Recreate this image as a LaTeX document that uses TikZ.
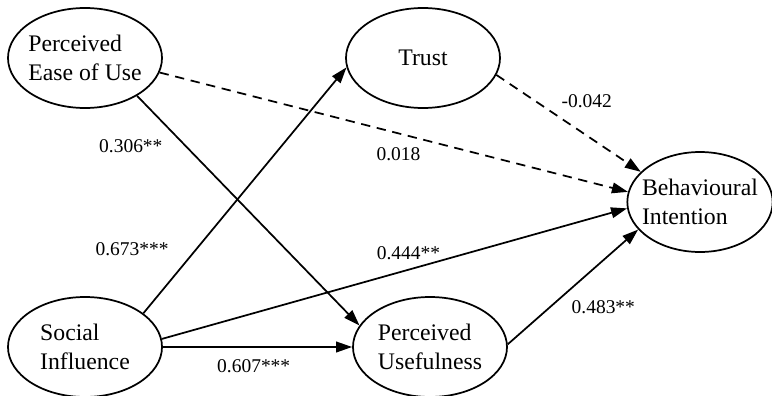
\documentclass[tikz,border=0pt]{standalone}
\usepackage{fontspec}
\setmainfont{Liberation Serif}
\usetikzlibrary{shapes.geometric, arrows.meta}
\tikzset{
  latent/.style={ellipse, draw=black, line width=1.3pt, minimum width=115.5pt, minimum height=75pt, inner xsep=-6pt, inner ysep=0pt, align=left, font=\fontsize{17.8}{21.5}\selectfont},
  arrow/.style={-{Triangle[length=12pt, width=8pt]}, line width=1.3pt},
  dasharrow/.style={arrow, dash pattern=on 7pt off 5pt},
  coef/.style={inner sep=1pt, font=\fontsize{14.6}{16}\selectfont}
}
\begin{document}
\begin{tikzpicture}[x=0.75pt, y=-0.75pt]
  \useasboundingbox (0,0) rectangle (772,396);
  \node[latent] (peou) at (85,58) {Perceived\\Ease of Use};
  \node[latent] (trust) at (423,58) {Trust};
  \node[latent, minimum width=109pt] (bi) at (700,202) {Behavioural\\Intention};
  \node[latent] (si) at (85,347) {Social\\Influence};
  \node[latent] (pu) at (430,347) {Perceived\\Usefulness};
  \draw[arrow] (peou.-36) -- node[coef, pos=0.22, left=16pt]{0.306**} (pu.163);
  \draw[dasharrow] (peou.-11) -- node[coef, pos=0.51, below=9pt]{0.018} (bi.172);
  \draw[dasharrow] (trust.-13) -- node[coef, pos=0.27, right=18pt]{-0.042} (bi.153);
  \draw[arrow] (si.30) -- node[coef, pos=0.26, left=19pt]{0.673***} (trust.187);
  \draw[arrow] (si.6) -- node[coef, pos=0.53, above=5.5pt]{0.444**} (bi.185);
  \draw[arrow] (si.0) -- node[coef, pos=0.48, below=8pt]{0.607***} (pu.180);
  \draw[arrow] (pu.2) -- node[coef, pos=0.32, right=15pt]{0.483**} (bi.204);
\end{tikzpicture}
\end{document}
